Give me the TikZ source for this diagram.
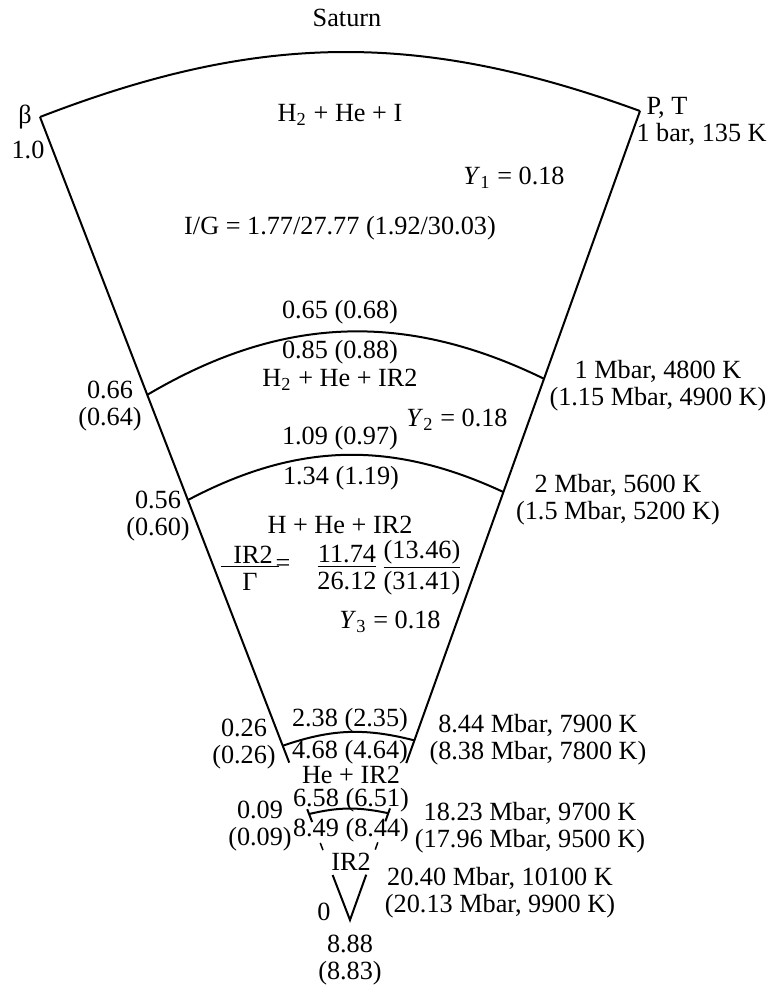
\documentclass[tikz,border=0pt]{standalone}
\usepackage{fontspec}
\setmainfont{Liberation Serif}
\usetikzlibrary{calc}

\tikzset{
    lbl/.style={font=\fontsize{10.5}{10.8}\selectfont, inner sep=0pt, align=center},
    shell/.style={line width=0.8pt},
    tick/.style={line width=0.6pt}
}

\begin{document}
\begin{tikzpicture}[x=0.4pt, y=-0.4pt]
    \useasboundingbox (0,0) rectangle (770,988);
    \coordinate (ltop) at (40,117);
    \coordinate (rtop) at (640,111);
    \coordinate (core) at (350,920);
    \coordinate (l1) at ($(ltop)!0.346!(core)$);
    \coordinate (r1) at ($(rtop)!0.331!(core)$);
    \coordinate (l2) at ($(ltop)!0.477!(core)$);
    \coordinate (r2) at ($(rtop)!0.471!(core)$);
    \coordinate (l3) at ($(ltop)!0.783!(core)$);
    \coordinate (r3) at ($(rtop)!0.778!(core)$);
    \coordinate (lend) at ($(ltop)!0.804!(core)$);
    \coordinate (rend) at ($(rtop)!0.806!(core)$);
    \coordinate (l4a) at ($(ltop)!0.862!(core)$);
    \coordinate (l4) at ($(ltop)!0.868!(core)$);
    \coordinate (l4b) at ($(ltop)!0.878!(core)$);
    \coordinate (r4a) at ($(rtop)!0.862!(core)$);
    \coordinate (r4) at ($(rtop)!0.868!(core)$);
    \coordinate (r4b) at ($(rtop)!0.878!(core)$);
    \coordinate (l5a) at ($(ltop)!0.904!(core)$);
    \coordinate (l5b) at ($(ltop)!0.913!(core)$);
    \coordinate (r5a) at ($(rtop)!0.904!(core)$);
    \coordinate (r5b) at ($(rtop)!0.913!(core)$);
    \coordinate (l6) at ($(ltop)!0.944!(core)$);
    \coordinate (r6) at ($(rtop)!0.944!(core)$);

    \draw[shell] (ltop) to[bend left=20.6] (rtop);
    \draw[shell] (ltop) -- (lend);
    \draw[shell] (rtop) -- (rend);
    \draw[shell] (l1) to[bend left=28.3] (r1);
    \draw[shell] (l2) to[bend left=26.4] (r2);
    \draw[shell] (l3) to[bend left=16.7] (r3);
    \draw[shell] (l4) to[bend left=12.6] (r4);
    \draw[shell] (l4a) -- (l4b);
    \draw[shell] (r4a) -- (r4b);
    \draw[tick] (l5a) -- (l5b);
    \draw[tick] (r5a) -- (r5b);
    \draw[shell] (l6) -- (core) -- (r6);

    \node[lbl] (title) at (347,18) {Saturn};
    \node[lbl] (beta) at (25,117) {β};
    \node[lbl] (beta1) at (28,150) {1.0};
    \node[lbl, anchor=west] (pt) at (646,108) {P, T};
    \node[lbl, anchor=west] (pt1) at (636,134) {1 bar, 135 K};

    \node[lbl] (zone1) at (340,115) {H\textsubscript{2} + He + I};
    \node[lbl] (y1) at (514,178) {\textit{Y}\textsubscript{1} = 0.18};
    \node[lbl] (ig) at (340,228) {I/G = 1.77/27.77 (1.92/30.03)};

    \node[lbl] (m65) at (340,312) {0.65 (0.68)};
    \node[lbl] (m85) at (340,352) {0.85 (0.88)};
    \node[lbl] (zone2) at (340,380) {H\textsubscript{2} + He + IR2};
    \node[lbl] (y2) at (457,420) {\textit{Y}\textsubscript{2} = 0.18};
    \node[lbl] (m109) at (340,438) {1.09 (0.97)};

    \node[lbl] (m134) at (341,478) {1.34 (1.19)};
    \node[lbl] (zone3) at (340,525) {H + He + IR2};
    \node[lbl] (irg) at (250,568) {\underline{\hspace{5pt}IR2\hspace{2.5pt}}\\Γ};
    \node[lbl] (eq) at (283,565) {=};
    \node[lbl] (ratio1) at (347,568) {\underline{11.74}\\26.12};
    \node[lbl] (ratio2) at (422,568) {\underline{(13.46)}\\(31.41)};
    \node[lbl] (y3) at (390,622) {\textit{Y}\textsubscript{3} = 0.18};

    \node[lbl] (m238) at (350,720) {2.38 (2.35)};
    \node[lbl] (m468) at (350,752) {4.68 (4.64)};
    \node[lbl] (zone4) at (351,775) {He + IR2};
    \node[lbl] (m658) at (351,800) {6.58 (6.51)};
    \node[lbl] (m849) at (351,830) {8.49 (8.44)};
    \node[lbl] (zone5) at (351,862) {IR2};
    \node[lbl] (beta0) at (324,912) {0};
    \node[lbl] (m888) at (350,960) {8.88\\(8.83)};

    \node[lbl] (beta66) at (110,406) {0.66\\(0.64)};
    \node[lbl] (beta56) at (158,516) {0.56\\(0.60)};
    \node[lbl] (beta26) at (244,744) {0.26\\(0.26)};
    \node[lbl] (beta09) at (260,826) {0.09\\(0.09)};

    \node[lbl] (p1) at (658,386) {1 Mbar, 4800 K\\(1.15 Mbar, 4900 K)};
    \node[lbl] (p2) at (618,500) {2 Mbar, 5600 K\\(1.5 Mbar, 5200 K)};
    \node[lbl] (p3) at (538,740) {8.44 Mbar, 7900 K\\(8.38 Mbar, 7800 K)};
    \node[lbl] (p4) at (530,828) {18.23 Mbar, 9700 K\\(17.96 Mbar, 9500 K)};
    \node[lbl] (p5) at (500,893) {20.40 Mbar, 10100 K\\(20.13 Mbar, 9900 K)};
\end{tikzpicture}
\end{document}
